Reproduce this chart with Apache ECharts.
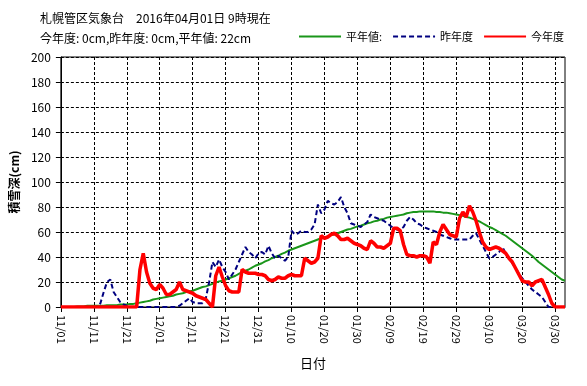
<!DOCTYPE html>
<html><head><meta charset="utf-8">
<script src="https://cdn.jsdelivr.net/npm/echarts@6/dist/echarts.min.js"></script>
<style>html,body{margin:0;padding:0;background:#fff}#c{width:587px;height:386px}</style>
</head><body><div id="c"></div>
<script>
// Daily categories from 2015-11-01 to 2016-04-02
const startDay = '2015-11-01';
const dayCount = 154;
const categories = [];
for (let i = 0; i < dayCount; i++) {
  const d = new Date(Date.parse(startDay + 'T00:00:00Z') + i * 86400000);
  categories.push(String(d.getUTCMonth() + 1).padStart(2, '0') + '/' + String(d.getUTCDate()).padStart(2, '0'));
}

const titleLines = ['札幌管区気象台　2016年04月01日 9時現在', '今年度: 0cm,昨年度: 0cm,平年値: 22cm'];
const seriesNames = ['平年値:', '昨年度', '今年度'];
const yTicks = [0, 20, 40, 60, 80, 100, 120, 140, 160, 180, 200];

// 平年値 (normal)
const normal = [
  0,0,0,0,0,0.5,0.5,0.5,1,1,
  1,1,1,1,1.5,1.5,1.5,1.5,2,2,
  2,2.5,2.5,3,3.5,4,4.5,5,6,6.5,
  7,7.5,8,8.5,9,10,10.5,11,12,12.5,
  13,14,15,16,16.5,17.5,18.5,19.5,20.5,21,
  22,23,24,25,26.5,28,29,30,31.5,33,
  34,35,36.5,37.5,39,40,41,42.5,43.5,45,
  46,47,48,49,50,51,52,53,54,55,
  55.5,56.5,57.5,58,59,60,61,62,62.5,63.5,
  64.5,65,66,67,67.5,68.5,69,70,70.5,71.5,
  72,72.5,73,73.5,74,75,75.5,76,76,76.5,
  76.5,76.5,76.5,76.5,76,76,75.5,75.5,75,74.5,
  74,73.5,73,72,71.5,70.5,69.5,68.5,67,65.5,
  64,63,61.5,60,58.5,57,55,53,51,49,
  47,45,43,41,38.5,36,34,32,30,28,
  26,24,22,21
];

// 昨年度 (last season)
const lastYear = [
  0,0,0,0,0,0,0,0,0,0,
  0,0,3,12,20,22,12,8,4,2,
  1,0,0,0,0,0,0,0,0,0,
  0,0,0,0,0,0,1,3,5,7,
  4,3,3,3,7,20,36,32,38,32,
  28,22,26,30,36,42,48,44,42,39,
  43,44,42,49,43,39,41,39,37,40,
  61,58,59,61,60,60,62,66,82,75,
  78,85,83,82,84,88,80,75,67,66,
  65,64,66,68,74,72,71,70,69,67,
  65,63,62,62,64,69,72,70,67,66,
  64,63,62,61,60,58,57,56,55,54,
  54,54,54,54,54,57,59,54,49,44,
  39,40,42,44,48,43,39,35,31,27,
  23,20,17,14,12,10,8,4,0,0,
  0,0,0,0
];

// 今年度 (this season)
const thisYear = [
  0,0,0,0,0,0,0,0,0,0,
  0,0,0,0,0,0,0,0,0,0,
  0,0,0,0,30,43,28,19,15,14,
  18,15,10,10,12,14,20,14,13,12,
  11,9,8,7,6,3,0,25,32,24,
  17,13,12,12,12,30,28,27,27,27,
  26,26,25,22,21,22,24,23,23,25,
  26,25,25,25,39,37,35,36,39,57,
  55,56,58,59,57,54,54,55,53,51,
  50,49,47,46,53,51,48,48,47,49,
  51,63,63,61,50,42,41,41,40,41,
  41,40,35,52,50,60,66,62,58,57,
  56,71,76,72,81,76,69,60,52,48,
  46,47,48,47,45,43,39,36,31,26,
  21,20,20,17,20,21,22,16,10,3,
  0,0,0,0
];

const FONT = '"Noto Sans CJK JP", "Noto Sans", sans-serif';
const chart = echarts.init(document.getElementById('c'), null, {renderer: 'canvas'});
chart.setOption({
  backgroundColor: '#fff',
  animation: false,
  textStyle: {fontFamily: FONT, color: '#000'},
  title: {
    text: titleLines.join('\n'),
    left: 40, top: 8, padding: 0,
    textStyle: {fontSize: 12, fontWeight: 'normal', color: '#000', lineHeight: 20, fontFamily: FONT}
  },
  legend: {
    left: 298, top: 31, padding: 0,
    itemWidth: 42, itemHeight: 12, itemGap: 10,
    data: seriesNames,
    itemStyle: {opacity: 0},
    textStyle: {fontSize: 11, color: '#000', fontFamily: FONT}
  },
  grid: {left: 60, right: 22, top: 57, bottom: 79, show: true, borderColor: '#000', borderWidth: 1, containLabel: false},
  xAxis: {
    type: 'category',
    data: categories,
    boundaryGap: false,
    name: '日付',
    nameLocation: 'middle',
    nameGap: 50,
    nameTextStyle: {fontSize: 13, color: '#000', fontFamily: FONT},
    axisLine: {lineStyle: {color: '#000', width: 1}},
    axisTick: {show: true, interval: 9, length: 5, lineStyle: {color: '#000'}},
    axisLabel: {interval: 9, rotate: -90, margin: 8, fontSize: 11, color: '#000', fontFamily: FONT},
    splitLine: {show: true, interval: 9, lineStyle: {color: '#000', type: [3, 2], width: 1}}
  },
  yAxis: {
    type: 'value',
    min: yTicks[0], max: yTicks[yTicks.length - 1], interval: 20,
    name: '積雪深(cm)',
    nameLocation: 'middle',
    nameGap: 40,
    nameTextStyle: {fontSize: 12, fontWeight: 'bold', color: '#000', fontFamily: FONT},
    axisLine: {show: true, lineStyle: {color: '#000', width: 1}},
    axisTick: {show: true, length: 5, lineStyle: {color: '#000'}},
    axisLabel: {margin: 10, fontSize: 12, color: '#000', fontFamily: FONT},
    splitLine: {show: true, lineStyle: {color: '#000', type: [3, 2], width: 1}}
  },
  series: [
    {name: seriesNames[0], type: 'line', data: normal, symbol: 'none', smooth: false,
     lineStyle: {color: '#1a961a', width: 2}, itemStyle: {color: '#1a961a'}, z: 2},
    {name: seriesNames[1], type: 'line', data: lastYear, symbol: 'none',
     lineStyle: {color: '#000080', width: 2, type: [5, 3]}, itemStyle: {color: '#000080'}, z: 3},
    {name: seriesNames[2], type: 'line', data: thisYear, symbol: 'none',
     lineStyle: {color: '#ff0000', width: 3.5}, itemStyle: {color: '#ff0000'}, z: 4}
  ]
});
</script>
</body></html>
